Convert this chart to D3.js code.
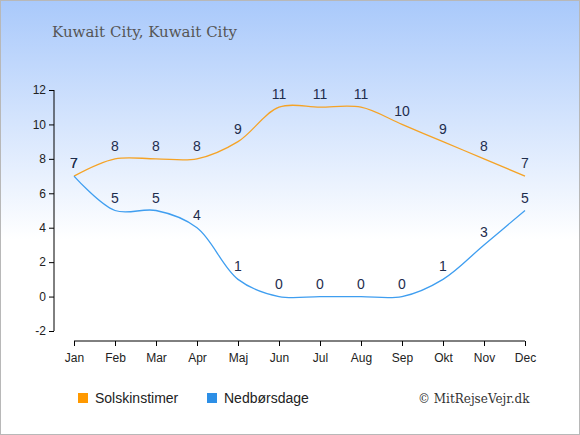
<!DOCTYPE html>
<html>
<head>
<meta charset="utf-8">
<script src="https://cdn.jsdelivr.net/npm/d3@7"></script>
<style>
  body { margin: 0; }
  svg { display: block; }
</style>
</head>
<body>
<svg id="chart" width="580" height="435"></svg>
<script>
// Kuwait City climate chart

var months = ["Jan", "Feb", "Mar", "Apr", "Maj", "Jun", "Jul", "Aug", "Sep", "Okt", "Nov", "Dec"]
  , sunHours = [7, 8, 8, 8, 9, 11, 11, 11, 10, 9, 8, 7]
  , rainDays = [7, 5, 5, 4, 1, 0, 0, 0, 0, 1, 3, 5]
  , yTicks = [-2, 0, 2, 4, 6, 8, 10, 12]
  , seriesNames = ["Solskinstimer", "Nedbørsdage"]
  ;

var width = 580, height = 435
  , svg = d3.select("#chart")
  ;

// Background gradient
var defs = svg.append("defs");
var grad = defs.append("linearGradient")
               .attr("id", "bg")
               .attr("x1", 0).attr("y1", 0)
               .attr("x2", 0).attr("y2", 1);
grad.append("stop").attr("offset", "0%").attr("stop-color", "#a9c9fb");
grad.append("stop").attr("offset", "55%").attr("stop-color", "#ffffff");
grad.append("stop").attr("offset", "100%").attr("stop-color", "#ffffff");

svg.append("rect")
   .attr("x", 0.5).attr("y", 0.5)
   .attr("width", width - 1).attr("height", height - 1)
   .attr("fill", "url(#bg)")
   .attr("stroke", "#b8b8b8");

// Title
svg.append("text")
   .attr("x", 52).attr("y", 37)
   .attr("font-family", "'DejaVu Serif', serif")
   .attr("font-size", 15)
   .attr("fill", "#555")
   .text("Kuwait City, Kuwait City");

// Scales
var x = d3.scalePoint().domain(months).range([74, 525]);
var y = d3.scaleLinear().domain([-2, 12]).range([331, 90]);

// Axes
var yAxis = svg.append("g")
               .attr("transform", "translate(54,0)")
               .call(d3.axisLeft(y).tickValues(yTicks).tickSize(5).tickSizeOuter(0)
                       .tickFormat(function (d) { return String(d); }));
var xAxis = svg.append("g")
               .attr("transform", "translate(0,341)")
               .call(d3.axisBottom(x).tickSize(5).tickSizeOuter(0));

[xAxis, yAxis].forEach(function (ax) {
  ax.selectAll("path, line").attr("stroke", "#000");
  ax.selectAll("text")
    .attr("font-family", "'Liberation Sans', Arial, sans-serif")
    .attr("font-size", 12)
    .attr("fill", "#222");
});
yAxis.select(".domain").attr("d", "M0," + y(-2) + "V" + y(12));
xAxis.select(".domain").attr("d", "M" + x("Jan") + ",0H" + x("Dec"));
xAxis.selectAll("text").attr("dy", "1.1em");

// Lines
var line = d3.line()
             .x(function (d, i) { return x(months[i]); })
             .y(function (d) { return y(d); })
             .curve(d3.curveCatmullRom.alpha(0.5));

var series = [
  { name: seriesNames[0], values: sunHours, color: "#f5a326", legend: "#ff9900" },
  { name: seriesNames[1], values: rainDays, color: "#3f9ef0", legend: "#2d8fe6" }
];

series.forEach(function (s) {
  svg.append("path")
     .attr("d", line(s.values))
     .attr("fill", "none")
     .attr("stroke", s.color)
     .attr("stroke-width", 1.3);

  svg.selectAll(null)
     .data(s.values)
     .enter().append("text")
     .attr("x", function (d, i) { return x(months[i]); })
     .attr("y", function (d) { return y(d) - 8; })
     .attr("text-anchor", "middle")
     .attr("font-family", "'Liberation Sans', Arial, sans-serif")
     .attr("font-size", 14)
     .attr("fill", "#1e2d4d")
     .text(function (d) { return d; });
});

// Legend
var legendX = [78, 207];
series.forEach(function (s, i) {
  svg.append("rect")
     .attr("x", legendX[i]).attr("y", 393)
     .attr("width", 10).attr("height", 10)
     .attr("fill", s.legend);
  svg.append("text")
     .attr("x", legendX[i] + 17).attr("y", 403)
     .attr("font-family", "'Liberation Sans', Arial, sans-serif")
     .attr("font-size", 14)
     .attr("fill", "#222")
     .text(s.name);
});

svg.append("text")
   .attr("x", 418).attr("y", 403)
   .attr("font-family", "'DejaVu Serif', serif")
   .attr("font-size", 12)
   .attr("fill", "#333")
   .text("© MitRejseVejr.dk");
</script>
</body>
</html>
